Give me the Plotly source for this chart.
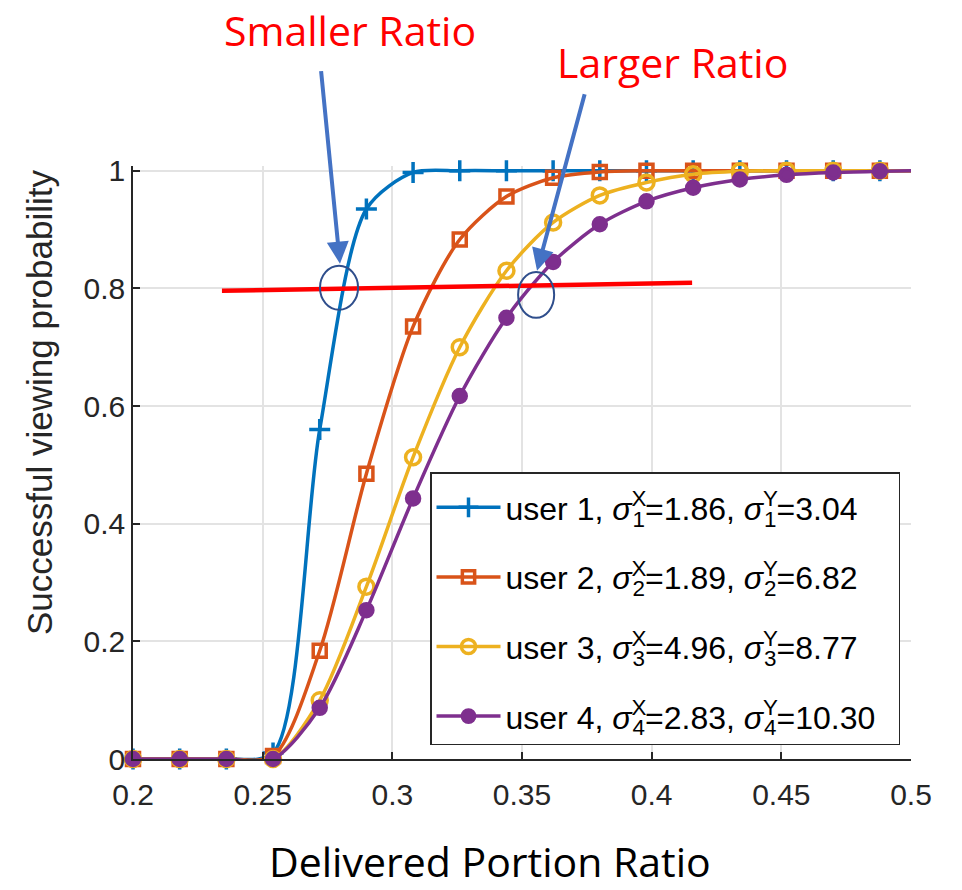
import plotly.graph_objects as go

# ---------------- data ----------------
x_pts = [0.2, 0.218, 0.236, 0.254, 0.272, 0.290, 0.308, 0.326, 0.344, 0.362,
         0.380, 0.398, 0.416, 0.434, 0.452, 0.470, 0.488, 0.5]

user1 = [0, 0, 0, 0.01, 0.56, 0.935, 0.997, 1.0, 1.0, 1.0,
         1.0, 1.0, 1.0, 1.0, 1.0, 1.0, 1.0, 1.0]
user2 = [0, 0, 0, 0.005, 0.184, 0.485, 0.735, 0.883, 0.956, 0.988,
         0.998, 1.0, 1.0, 1.0, 1.0, 1.0, 1.0, 1.0]
user3 = [0, 0, 0, 0.0, 0.10, 0.293, 0.513, 0.70, 0.83, 0.912,
         0.958, 0.98, 0.994, 0.999, 1.0, 1.0, 1.0, 1.0]
user4 = [0, 0, 0, 0.0, 0.087, 0.253, 0.443, 0.617, 0.75, 0.845,
         0.909, 0.948, 0.971, 0.985, 0.993, 0.997, 0.999, 1.0]

sigma_x = ["1.86", "1.89", "4.96", "2.83"]
sigma_y = ["3.04", "6.82", "8.77", "10.30"]

x_ticks = [0.2, 0.25, 0.3, 0.35, 0.4, 0.45, 0.5]
x_tick_text = ["0.2", "0.25", "0.3", "0.35", "0.4", "0.45", "0.5"]
y_ticks = [0, 0.2, 0.4, 0.6, 0.8, 1.0]
y_tick_text = ["0", "0.2", "0.4", "0.6", "0.8", "1"]

# annotation geometry (data coordinates)
red_line_x = [0.2343, 0.4156]
red_line_y = [0.796, 0.8095]
ellipse1 = [0.2721, 0.7636, 0.2868, 0.8384]
ellipse2 = [0.3485, 0.750, 0.3624, 0.828]

# ---------------- styles ----------------
colors = ["#0072BD", "#D95319", "#EDB120", "#7E2F8E"]
symbols = ["cross-thin", "square-open", "circle-open", "circle"]
msizes = [15, 13, 15, 13]
series = [user1, user2, user3, user4]

TXT = "#262626"
FONT = "Liberation Sans, Arial, sans-serif"

# plot area in page pixels (body margin is removed below)
PL, PR, PT, PB = 133, 911, 166, 759
PH = PB - PT
PW = PR - PL


def px(xp):
    return (xp - PL) / PW


def py(yp):
    return (PB - yp) / PH


fig = go.Figure()
n = len(x_pts)
for i, ys in enumerate(series):
    k = i + 1
    sup = '<sup><span style="letter-spacing:-0.62em">{}</span></sup>'
    name = ("user {k}, <i>σ</i>" + sup.format("X") + "<sub>{k}</sub>={sx}, "
            "<i>σ</i>" + sup.format("Y") + "<sub>{k}</sub>={sy}\u00a0\u00a0").format(
        k=k, sx=sigma_x[i], sy=sigma_y[i])
    sizes = [msizes[i]] * (n - 1) + [0]
    fig.add_trace(go.Scatter(
        x=x_pts, y=ys, mode="lines+markers", name=name,
        legendgroup="g%d" % k,
        line=dict(color=colors[i], width=3.5, shape="spline", smoothing=0.8),
        marker=dict(symbol=symbols[i], size=sizes, color=colors[i], opacity=1,
                    line=dict(color=colors[i], width=3.5)),
        cliponaxis=False,
    ))

fig.add_shape(type="line", xref="x", yref="y",
              x0=red_line_x[0], y0=red_line_y[0], x1=red_line_x[1], y1=red_line_y[1],
              line=dict(color="#FF0000", width=4.5), layer="above")
fig.add_shape(type="circle", xref="x", yref="y",
              x0=ellipse1[0], y0=ellipse1[1], x1=ellipse1[2], y1=ellipse1[3],
              line=dict(color="#2F4E8C", width=2), layer="above")
fig.add_shape(type="circle", xref="x", yref="y",
              x0=ellipse2[0], y0=ellipse2[1], x1=ellipse2[2], y1=ellipse2[3],
              line=dict(color="#2F4E8C", width=2), layer="above")

ARROW = "#4472C4"
fig.add_annotation(x=0.2798, y=0.842, xref="x", yref="y", text="",
                   showarrow=True, ax=-19, ay=-194, arrowhead=2, arrowsize=1.1,
                   arrowwidth=4, arrowcolor=ARROW)
fig.add_annotation(x=0.3558, y=0.830, xref="x", yref="y", text="",
                   showarrow=True, ax=48, ay=-178, arrowhead=2, arrowsize=1.1,
                   arrowwidth=4, arrowcolor=ARROW)

TFONT = "Open Sans, Noto Sans, sans-serif"
fig.add_annotation(x=px(350), y=py(30), xref="paper", yref="paper",
                   xanchor="center", yanchor="middle",
                   text="Smaller Ratio", showarrow=False,
                   font=dict(family=TFONT, size=41, color="#FF0000"))
fig.add_annotation(x=px(672), y=py(62), xref="paper", yref="paper",
                   xanchor="center", yanchor="middle",
                   text="Larger Ratio", showarrow=False,
                   font=dict(family=TFONT, size=41, color="#FF0000"))
fig.add_annotation(x=px(490), y=py(861), xref="paper", yref="paper",
                   xanchor="center", yanchor="middle",
                   text="Delivered Portion Ratio", showarrow=False,
                   font=dict(family=TFONT, size=41, color="#000000"))
fig.add_annotation(x=px(39), y=py(403), xref="paper", yref="paper",
                   xanchor="center", yanchor="middle",
                   text="Successful viewing probability", showarrow=False, textangle=-90,
                   font=dict(family=FONT, size=35, color=TXT))

fig.update_layout(
    width=962, height=890,
    paper_bgcolor="white", plot_bgcolor="white",
    margin=dict(l=PL, r=962 - PR, t=PT, b=890 - PB),
    showlegend=True,
    legend=dict(x=px(430), y=py(472),
                xanchor="left", yanchor="top",
                bgcolor="white", bordercolor=TXT, borderwidth=1.5,
                font=dict(family=FONT, size=32, color="#000000"),
                title=dict(text=" ", font=dict(size=5)),
                itemwidth=64, tracegroupgap=25, traceorder="grouped"),
    font=dict(family=FONT, color=TXT),
)
fig.update_xaxes(range=[0.2, 0.5], tickvals=x_ticks, ticktext=x_tick_text,
                 showgrid=True, gridcolor="#E3E3E3", gridwidth=1.5,
                 showline=True, linecolor=TXT, linewidth=1.5,
                 ticks="inside", ticklen=7, tickcolor=TXT, tickwidth=1.5,
                 ticklabelstandoff=8,
                 tickfont=dict(family=FONT, size=30, color=TXT), zeroline=False)
fig.update_yaxes(range=[0, 1.008], tickvals=y_ticks, ticktext=y_tick_text,
                 showgrid=True, gridcolor="#E3E3E3", gridwidth=1.5,
                 showline=True, linecolor=TXT, linewidth=1.5,
                 ticks="inside", ticklen=7, tickcolor=TXT, tickwidth=1.5,
                 tickfont=dict(family=FONT, size=30, color=TXT), zeroline=False)

fig.write_html("out.html", config={"displayModeBar": False},
               post_script="document.body.style.margin='0';document.body.style.overflow='hidden';")
